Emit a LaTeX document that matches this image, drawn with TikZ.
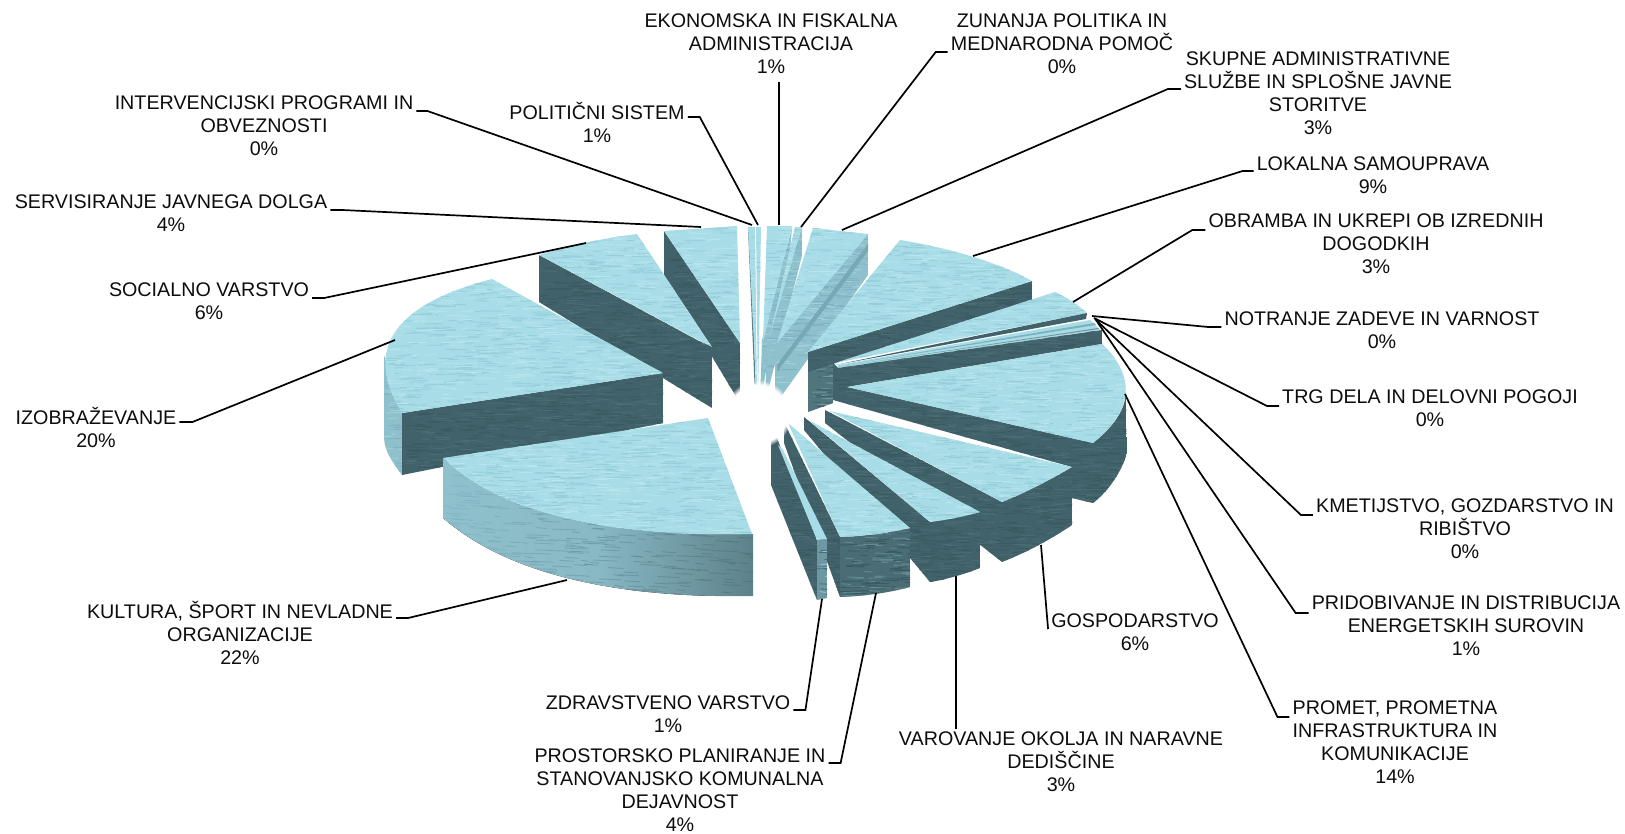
\documentclass[tikz,border=0pt]{standalone}
\usepackage{fontspec}
\setmainfont{Liberation Sans}
\usetikzlibrary{calc,fadings}
\definecolor{topbase}{HTML}{A8DCE6}
\definecolor{topa}{HTML}{96CFDA}
\definecolor{topb}{HTML}{B8E5ED}
\definecolor{darkbase}{HTML}{41626A}
\definecolor{darka}{HTML}{3A5960}
\definecolor{darkb}{HTML}{4A6C74}
\definecolor{midbase}{HTML}{8FC1CD}
\definecolor{mida}{HTML}{7FB2BF}
\definecolor{midb}{HTML}{A0D0DB}
\definecolor{fronta}{HTML}{4A6C74}
\definecolor{frontb}{HTML}{6D98A2}
\tikzset{
  lab/.style={font=\fontsize{19.7}{22.8}\selectfont, align=center, anchor=north, inner sep=0pt, text=black!95, execute at begin node=\strut},
  leader/.style={draw=black, line width=1.7pt, line join=miter}
}
% #1 fill options, #2 #3 stroke colours, #4-#7 box, #8 path
\newcommand\texface[8]{%
  \begin{scope}
    \clip #8;
    \fill[#1] (#4,#5) rectangle (#6,#7);
    \pgfmathtruncatemacro\nst{(#6-#4)/5*(#7-#5)/9+4}%
    \foreach \i in {1,...,\nst}{%
      \pgfmathsetmacro\xa{#4+rnd*(#6-#4)}%
      \pgfmathsetmacro\ya{#5+rnd*(#7-#5)}%
      \pgfmathsetmacro\ln{5+rnd*16}%
      \pgfmathsetmacro\db{(rnd-.5)*1.6}%
      \pgfmathparse{rnd<.5 ? 1 : 0}%
      \ifnum\pgfmathresult=1
        \draw[#2, line width=.9pt, line cap=round] (\xa,\ya) -- ++(\ln,\db);
      \else
        \draw[#3, line width=.9pt, line cap=round] (\xa,\ya) -- ++(\ln,\db);
      \fi
    }%
  \end{scope}}
\newcommand\tface[5]{\texface{topbase}{topa}{topb}{#1}{#2}{#3}{#4}{#5}}
\newcommand\dface[5]{\texface{darkbase}{darka}{darkb}{#1}{#2}{#3}{#4}{#5}}
\newcommand\mface[5]{\texface{midbase}{mida}{midb}{#1}{#2}{#3}{#4}{#5}}
\begin{document}
\begin{tikzpicture}[x=1pt,y=-1pt]
\pgfmathsetseed{4217}
\useasboundingbox (0,0) rectangle (1625,833);
\fill[white] (0,0) rectangle (1625,833);
% ---------- left wedges
\dface{664}{231}{740}{403}{(664,231) -- (664,277) -- (740,403) -- (740,343) -- cycle}
\tface{664}{226}{740}{343}{(664,231) -- (737,226) -- (740,343) -- cycle}
\dface{539}{255}{712}{408}{(539,255) -- (539,302) -- (712,408) -- (712,348) -- cycle}
\tface{539}{234}{712}{348}{(539,255) .. controls (570,245) and (605,238) .. (637,234) -- (712,347) -- cycle}
\mface{383}{355}{402}{475}{(402,413) -- (402,475) .. controls (392,462) and (384,450) .. (384,437) -- (384,355) -- cycle}
\dface{402}{373}{663}{475}{(402,413) -- (663,373) -- (663,423) -- (402,475) -- cycle}
\tface{380}{279}{663}{413}{(402,413) .. controls (372,365) and (372,310) .. (492,279) -- (663,373) -- cycle}
\begin{scope}
  \clip (443,458) -- (443,518) .. controls (520,585) and (650,598) .. (753,596) -- (753,534) .. controls (650,537) and (510,525) .. (443,458) -- cycle;
  \fill[left color=midbase,right color=frontb!85!black,middle color=midbase!80!frontb] (443,458) rectangle (753,596);
  \foreach \i in {1,...,420}{%
    \pgfmathsetmacro\xa{443+rnd*310}%
    \pgfmathsetmacro\ya{458+rnd*138}%
    \pgfmathsetmacro\ln{6+rnd*18}%
    \pgfmathsetmacro\mixp{(\xa-443)/3.1}%
    \draw[fronta!\mixp!mida, line width=.9pt, line cap=round, opacity=.6] (\xa,\ya) -- ++(\ln,1);
  }
\end{scope}
\tface{443}{418}{752}{537}{(443,458) -- (708,418) -- (752,534) .. controls (650,537) and (510,525) .. (443,458) -- cycle}
% ---------- upper centre wedges
\fill[darkbase!70!midbase] (748,228) -- (750,228) -- (756,396) -- (755,396) -- cycle;
\tface{748}{227}{758}{402}{(748,227) -- (755,227) -- (757,400) -- cycle}
\tface{756}{227}{762}{402}{(756,227) -- (761,227) -- (758,402) -- cycle}
\mface{760}{226}{792}{402}{(792,228) -- (790,250) -- (760,402) -- (762,340) -- cycle}
\tface{762}{226}{792}{342}{(767,226) -- (792,226) -- (763,342) -- cycle}
\mface{765}{227}{802}{403}{(802,227) -- (802,255) -- (765,403) -- (767,340) -- cycle}
\tface{770}{227}{802}{335}{(795,227) -- (802,227) -- (770,335) -- cycle}
\mface{775}{234}{868}{405}{(868,234) -- (868,275) -- (775,405) -- (775,343) -- cycle}
\fill[mida!85!darkb] (868,244) -- (868,251) -- (777,372) -- (777,365) -- cycle;
\tface{777}{228}{868}{343}{(813,228) -- (868,234) -- (777,343) -- cycle}
% ---------- right wedges
\texface{darkb!80!frontb}{darkbase}{frontb}{808}{352}{833}{412}{(808,352) -- (808,412) -- (833,403) -- (833,363) -- cycle}
\dface{808}{281}{1032}{372}{(808,352) -- (1032,281) -- (1032,300) -- (808,372) -- cycle}
\tface{808}{240}{1032}{352}{(808,352) -- (900,240) .. controls (950,248) and (1000,263) .. (1032,281) -- cycle}
\tface{835}{292}{1087}{363}{(835,363) -- (1055,292) .. controls (1068,298) and (1078,305) .. (1087,313) -- cycle}
\fill[darkbase] (1087,313) -- (1086,319) -- (835,365) -- cycle;
\fill[topbase] (838,365) -- (1090,320) -- (1100,330) -- (838,368) -- cycle;
\fill[mida] (838,366) -- (1094,323) -- (1096,325) -- cycle;
\fill[frontb] (838,367) -- (1098,328) -- (1099,329) -- cycle;
\dface{833}{330}{1102}{400}{(833,363) -- (838,368) -- (1102,330) -- (1102,344) -- (847,387) -- (833,388) -- cycle}
\dface{833}{387}{1127}{503}{(833,383) -- (847,387) -- (1093,443) .. controls (1115,425) and (1125,410) .. (1126,392) -- (1127,453) .. controls (1122,470) and (1110,490) .. (1093,503) -- (1072,498) -- (1072,467) -- (833,400) -- cycle}
\tface{847}{344}{1130}{443}{(847,387) -- (1102,344) .. controls (1135,375) and (1135,410) .. (1093,443) -- cycle}
\dface{825}{410}{1072}{562}{(825,410) -- (1002,502) -- (1072,467) -- (1072,525) .. controls (1050,540) and (1025,553) .. (1002,562) -- (825,423) -- cycle}
\tface{825}{410}{1072}{502}{(830,411) -- (1072,467) .. controls (1050,480) and (1025,493) .. (1002,502) -- cycle}
\dface{804}{417}{980}{582}{(804,417) -- (930,522) -- (980,512) -- (980,568) .. controls (965,574) and (948,579) .. (930,582) -- (804,430) -- cycle}
\tface{804}{417}{980}{522}{(810,421) -- (980,512) .. controls (965,516) and (948,520) .. (930,522) -- cycle}
\dface{784}{422}{840}{597}{(784,422) -- (840,537) -- (840,597) -- (784,443) -- cycle}
\texface{fronta}{darka}{frontb!70!fronta}{840}{528}{910}{597}{(840,537) .. controls (865,536) and (888,533) .. (910,528) -- (910,587) .. controls (888,593) and (865,596) .. (840,597) -- cycle}
\tface{788}{423}{910}{537}{(788,423) -- (910,528) .. controls (888,533) and (865,536) .. (840,537) -- cycle}
\dface{771}{423}{817}{600}{(771,423) -- (817,540) -- (817,600) -- (771,485) -- cycle}
\texface{frontb}{fronta}{midbase}{817}{539}{827}{600}{(817,540) -- (827,539) -- (827,598) -- (817,600) -- cycle}
\fill[topbase] (783,450) -- (827,539) -- (817,540) -- (778,445) -- cycle;
% soft white heart of the pie
\fill[white,path fading=circle with fuzzy edge 15 percent] (758,414) circle (34);
% ---------- labels
\node[lab] (eko) at (771,14) {EKONOMSKA IN FISKALNA\\ADMINISTRACIJA\\1\%};
\node[lab] (zun) at (1062,14) {ZUNANJA POLITIKA IN\\MEDNARODNA POMOČ\\0\%};
\node[lab] (sku) at (1318,52) {SKUPNE ADMINISTRATIVNE\\SLUŽBE IN SPLOŠNE JAVNE\\STORITVE\\3\%};
\node[lab] (lok) at (1373,157) {LOKALNA SAMOUPRAVA\\9\%};
\node[lab] (obr) at (1376,214) {OBRAMBA IN UKREPI OB IZREDNIH\\DOGODKIH\\3\%};
\node[lab] (not) at (1382,312) {NOTRANJE ZADEVE IN VARNOST\\0\%};
\node[lab] (trg) at (1430,390) {TRG DELA IN DELOVNI POGOJI\\0\%};
\node[lab] (kme) at (1465,499) {KMETIJSTVO, GOZDARSTVO IN\\RIBIŠTVO\\0\%};
\node[lab] (pri) at (1466,596) {PRIDOBIVANJE IN DISTRIBUCIJA\\ENERGETSKIH SUROVIN\\1\%};
\node[lab] (pro) at (1395,701) {PROMET, PROMETNA\\INFRASTRUKTURA IN\\KOMUNIKACIJE\\14\%};
\node[lab] (gos) at (1135,614) {GOSPODARSTVO\\6\%};
\node[lab] (var) at (1061,732) {VAROVANJE OKOLJA IN NARAVNE\\DEDIŠČINE\\3\%};
\node[lab] (pst) at (680,749) {PROSTORSKO PLANIRANJE IN\\STANOVANJSKO KOMUNALNA\\DEJAVNOST\\4\%};
\node[lab] (zdr) at (668,696) {ZDRAVSTVENO VARSTVO\\1\%};
\node[lab] (kul) at (240,601) {KULTURA, ŠPORT IN NEVLADNE\\ORGANIZACIJE\\22\%};
\node[lab] (izo) at (96,407) {IZOBRAŽEVANJE\\20\%};
\node[lab] (soc) at (209,283) {SOCIALNO VARSTVO\\6\%};
\node[lab] (ser) at (171,195) {SERVISIRANJE JAVNEGA DOLGA\\4\%};
\node[lab] (int) at (264,96) {INTERVENCIJSKI PROGRAMI IN\\OBVEZNOSTI\\0\%};
\node[lab] (pol) at (597,102) {POLITIČNI SISTEM\\1\%};
% ---------- anchors on the wedges
\coordinate (eEko) at (779,225);
\coordinate (eZun) at (801,227);
\coordinate (eSku) at (842,230);
\coordinate (eLok) at (973,256);
\coordinate (eObr) at (1073,302);
\coordinate (eNot) at (1092,316);
\coordinate (eTrg) at (1094,318);
\coordinate (eKme) at (1095,319);
\coordinate (ePri) at (1096,320);
\coordinate (ePro) at (1125,394);
\coordinate (eGos) at (1041,545);
\coordinate (eVar) at (956,576);
\coordinate (ePst) at (876,593);
\coordinate (eZdr) at (822,599);
\coordinate (eKul) at (567,580);
\coordinate (eIzo) at (395,340);
\coordinate (eSoc) at (586,243);
\coordinate (eSer) at (701,227);
\coordinate (eInt) at (752,225);
\coordinate (ePol) at (758,225);
% ---------- leaders
\draw[leader] ($(eko.south)+(8,1)$) -- (eEko);
\draw[leader] ($(zun.north west)+(-3,38)$) -- ++(-12,0) -- (eZun);
\draw[leader] ($(sku.north west)+(-3,37)$) -- ++(-13,0) -- (eSku);
\draw[leader] ($(lok.north west)+(-3,14)$) -- ++(-11,0) -- (eLok);
\draw[leader] ($(obr.north west)+(-3,16)$) -- ++(-13,0) -- (eObr);
\draw[leader] ($(not.north west)+(-3,15)$) -- ++(-13,0) -- (eNot);
\draw[leader] ($(trg.north west)+(-3,16)$) -- ++(-12,0) -- (eTrg);
\draw[leader] ($(kme.north west)+(-3,16)$) -- ++(-12,0) -- (eKme);
\draw[leader] ($(pri.north west)+(-3,17)$) -- ++(-13,0) -- (ePri);
\draw[leader] ($(pro.north west)+(-3,16)$) -- ++(-12,0) -- (ePro);
\draw[leader] ($(gos.north west)+(-3,15)$) -- (eGos);
\draw[leader] ($(var.north)+(-105,-3)$) -- (eVar);
\draw[leader] ($(pst.north east)+(3,14)$) -- ++(12,0) -- (ePst);
\draw[leader] ($(zdr.north east)+(3,14)$) -- ++(12,0) -- (eZdr);
\draw[leader] ($(kul.north east)+(3,17)$) -- ++(12,0) -- (eKul);
\draw[leader] ($(izo.north east)+(3,15)$) -- ++(13,0) -- (eIzo);
\draw[leader] ($(soc.north east)+(3,15)$) -- ++(12,0) -- (eSoc);
\draw[leader] ($(ser.north east)+(3,15)$) -- ++(12,0) -- (eSer);
\draw[leader] ($(int.north east)+(3,15)$) -- ++(11,0) -- (eInt);
\draw[leader] ($(pol.north east)+(3,15)$) -- ++(12,0) -- (ePol);
\end{tikzpicture}
\end{document}
